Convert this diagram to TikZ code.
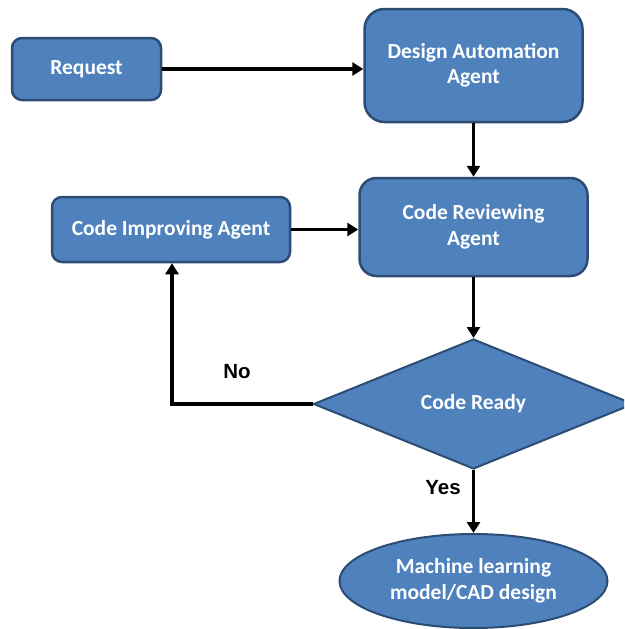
\documentclass[tikz,border=0pt]{standalone}
\usepackage{fontspec}
\setmainfont{Carlito}
\newfontfamily\lblfont{Liberation Sans}
\usetikzlibrary{shapes.geometric,arrows.meta}
\definecolor{boxfill}{HTML}{4F81BD}
\definecolor{boxline}{HTML}{2C4C74}
\begin{document}
\begin{tikzpicture}[x=1pt,y=-1pt,
  box/.style={draw=boxline,fill=boxfill,line width=2.5pt,text=white,align=center,
    font=\fontsize{21.5}{25.5}\selectfont\bfseries,inner sep=0pt},
  conn/.style={line width=3.6pt,-{Triangle[length=11pt,width=13pt]}},
  lbl/.style={font=\lblfont\fontsize{20.5}{24}\selectfont\bfseries}]
\useasboundingbox (0,0) rectangle (624,629);
\clip (0,0) rectangle (624,629);
\node[box,rounded corners=10pt,minimum width=149pt,minimum height=62pt] (req) at (86.5,69) {Request};
\node[box,rounded corners=20pt,minimum width=218pt,minimum height=113pt] (daa) at (473.5,65.5) {Design Automation\\Agent};
\node[box,rounded corners=17pt,minimum width=228pt,minimum height=98pt] (cra) at (473.5,227) {Code Reviewing\\Agent};
\node[box,rounded corners=10pt,minimum width=238pt,minimum height=65pt] (cia) at (171,229.5) {Code Improving Agent};
\node[box,diamond,line width=2pt,minimum width=320pt,minimum height=130pt] (rdy) at (473.5,404) {Code Ready};
\node[box,ellipse,line width=2pt,minimum width=268pt,minimum height=94pt] (ml) at (473.5,581) {Machine learning\\model/CAD design};
\coordinate (corner) at (172,404);
\draw[conn] (req.east) -- (daa.west |- req.east);
\draw[conn] (daa.south) -- (cra.north);
\draw[conn] (cia.east) -- (cra.west |- cia.east);
\draw[conn] (cra.south) -- (rdy.north);
\draw[conn] (rdy.west) -- (corner) -- (corner |- cia.south);
\draw[conn] (rdy.south) -- (ml.north);
\node[lbl] (no) at (237,372) {No};
\node[lbl] (yes) at (443,488) {Yes};
\end{tikzpicture}
\end{document}
